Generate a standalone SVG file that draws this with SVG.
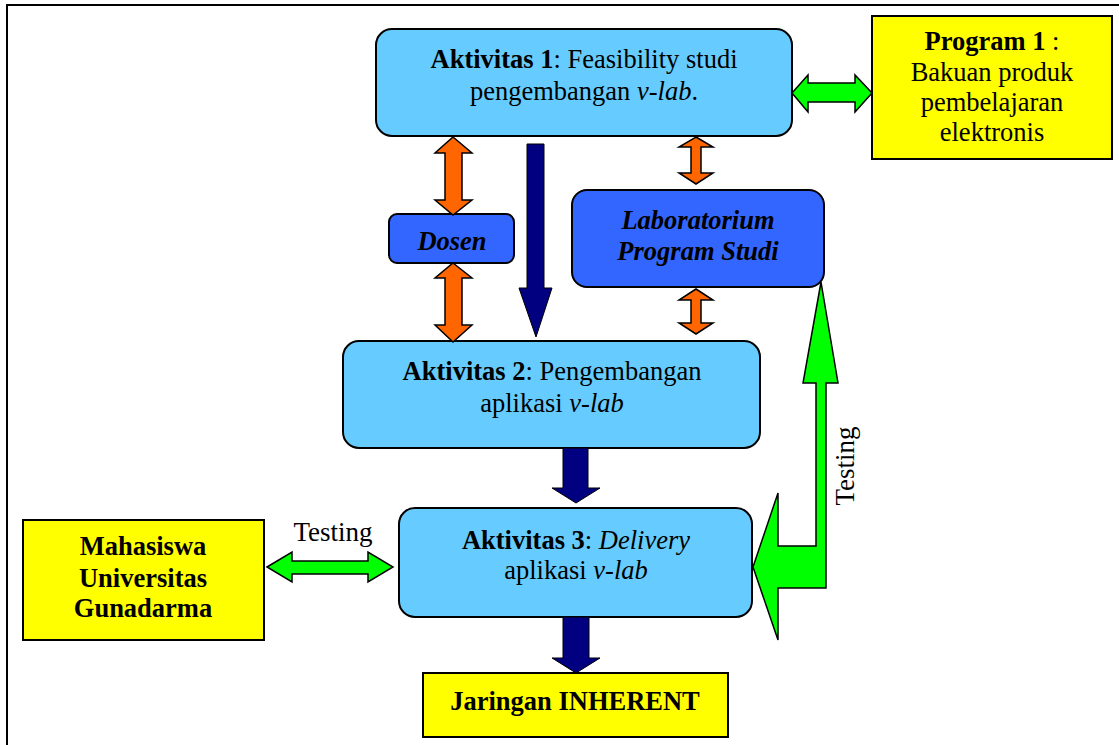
<svg xmlns="http://www.w3.org/2000/svg" width="1119" height="745" viewBox="0 0 1119 745">
<style>
text{font-family:"Liberation Serif","Times New Roman",serif;fill:#000;}
.t{font-size:26.5px;text-anchor:middle;}
.b{font-weight:bold;}
.i{font-style:italic;}
.act{fill:#66CCFF;stroke:#000;stroke-width:2;}
.blue{fill:#3366FF;stroke:#000;stroke-width:2;}
.yel{fill:#FFFF00;stroke:#000;stroke-width:2;}
.or{fill:#FF6600;stroke:#000;stroke-width:1.5;stroke-linejoin:miter;}
.gr{fill:#00FF00;stroke:#000;stroke-width:1.5;}
.nv{fill:#000080;stroke:#000;stroke-width:1;}
</style>
<rect x="7" y="5" width="1200" height="800" fill="#fff" stroke="#000" stroke-width="2"/>

<g id="aktivitas1">
<rect class="act" x="376" y="29" width="416" height="107" rx="16"/>
<text class="t" x="584" y="68"><tspan class="b">Aktivitas 1</tspan>: Feasibility studi</text>
<text class="t" x="584" y="100">pengembangan <tspan class="i">v-lab</tspan>.</text>
</g>
<g id="program1">
<rect class="yel" x="872" y="16" width="240" height="143"/>
<text class="t" x="992" y="50"><tspan class="b">Program 1</tspan> :</text>
<text class="t" x="992" y="81">Bakuan produk</text>
<text class="t" x="992" y="111">pembelajaran</text>
<text class="t" x="992" y="141">elektronis</text>
</g>
<g id="dosen">
<rect class="blue" x="389" y="214" width="125" height="49" rx="8"/>
<text class="t b i" x="452" y="250">Dosen</text>
</g>
<g id="lab">
<rect class="blue" x="572" y="190" width="252" height="97" rx="15"/>
<text class="t b i" x="698" y="229">Laboratorium</text>
<text class="t b i" x="698" y="260">Program Studi</text>
</g>
<g id="aktivitas2">
<rect class="act" x="343" y="341" width="417" height="107" rx="16"/>
<text class="t" x="552" y="380"><tspan class="b">Aktivitas 2</tspan>: Pengembangan</text>
<text class="t" x="552" y="412">aplikasi <tspan class="i">v-lab</tspan></text>
</g>
<g id="aktivitas3">
<rect class="act" x="399" y="508" width="353" height="109" rx="16"/>
<text class="t" x="576" y="549"><tspan class="b">Aktivitas 3</tspan>: <tspan class="i">Delivery</tspan></text>
<text class="t" x="576" y="579">aplikasi <tspan class="i">v-lab</tspan></text>
</g>
<g id="mahasiswa">
<rect class="yel" x="23" y="520" width="241" height="120"/>
<text class="t b" x="143" y="555">Mahasiswa</text>
<text class="t b" x="143" y="587">Universitas</text>
<text class="t b" x="143" y="617">Gunadarma</text>
</g>
<g id="jaringan">
<rect class="yel" x="423" y="673" width="305" height="64"/>
<text class="t b" x="575" y="710">Jaringan INHERENT</text>
</g>

<g id="connectors">
<polygon class="or" points="453,137 472,153 462,153 462,200 472,200 453,215 435,200 445,200 445,153 435,153"/>
<polygon class="or" points="453,263 472,278 462,278 462,325 472,325 453,342 435,325 445,325 445,278 435,278"/>
<polygon class="or" points="696,137 713,147 701,147 701,173 713,173 696,184 679,173 691,173 691,147 679,147"/>
<polygon class="or" points="696,289 713,300 701,300 701,323 713,323 696,334 679,323 691,323 691,300 679,300"/>
<polygon class="gr" points="792,93 808,75 808,83 855,83 855,75 872,93 855,112 855,102 808,102 808,112"/>
<polygon class="gr" points="267,567 292,552 292,561 368,561 368,552 393,567 368,582 368,574 292,574 292,582"/>
<polygon class="nv" points="527,144 544,144 544,288 552,288 536,337 519,288 527,288"/>
<polygon class="nv" points="563,448 588,448 588,488 600,488 576,503 552,488 563,488"/>
<polygon class="nv" points="563,617 589,617 589,658 600,658 576,673 552,658 563,658"/>
<polygon class="gr" points="821,282 838,383 826,383 826,588 778,588 778,640 753,567 778,493 778,546 816,546 816,383 803,383"/>
<text class="t" x="333" y="541" style="font-size:27px">Testing</text>
<text class="t" transform="translate(854,466) rotate(-90)" style="font-size:27px">Testing</text>
</g>
</svg>
